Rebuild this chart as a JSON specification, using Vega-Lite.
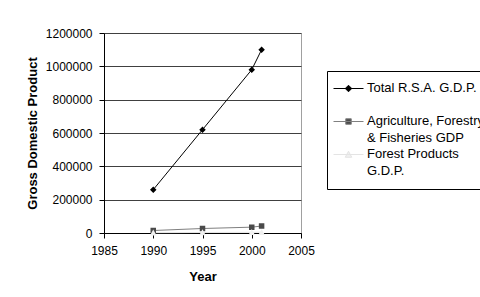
{
  "$schema": "https://vega.github.io/schema/vega-lite/v6.json",
  "width": 197,
  "height": 200,
  "autosize": {"type": "none"},
  "padding": {"left": 104, "top": 33, "right": 179, "bottom": 64},
  "background": "white",
  "config": {
    "font": "Liberation Sans",
    "view": {"stroke": "#a0a0a0", "strokeWidth": 1},
    "axis": {"labelFont": "Liberation Sans", "titleFont": "Liberation Sans", "labelColor": "#000", "titleColor": "#000", "domainColor": "#000", "tickColor": "#000"},
    "legend": {"labelFont": "Liberation Sans"}
  },
  "data": {
    "values": [
      {"year": 1990, "series": "Total R.S.A. G.D.P.", "gdp": 260000},
      {"year": 1995, "series": "Total R.S.A. G.D.P.", "gdp": 620000},
      {"year": 2000, "series": "Total R.S.A. G.D.P.", "gdp": 980000},
      {"year": 2001, "series": "Total R.S.A. G.D.P.", "gdp": 1100000},
      {"year": 1990, "series": "Agriculture, Forestry & Fisheries GDP", "gdp": 15000},
      {"year": 1995, "series": "Agriculture, Forestry & Fisheries GDP", "gdp": 27000},
      {"year": 2000, "series": "Agriculture, Forestry & Fisheries GDP", "gdp": 35000},
      {"year": 2001, "series": "Agriculture, Forestry & Fisheries GDP", "gdp": 42000},
      {"year": 1990, "series": "Forest Products G.D.P.", "gdp": 2000},
      {"year": 1995, "series": "Forest Products G.D.P.", "gdp": 3000},
      {"year": 2000, "series": "Forest Products G.D.P.", "gdp": 4000},
      {"year": 2001, "series": "Forest Products G.D.P.", "gdp": 5000}
    ]
  },
  "encoding": {
    "x": {
      "field": "year", "type": "quantitative",
      "scale": {"domain": [1985, 2005], "nice": false, "zero": false},
      "axis": {"title": "Year", "values": [1985, 1990, 1995, 2000, 2005], "format": "d", "grid": false,
        "labelFontSize": 12, "titleFontSize": 13, "titleFontWeight": "bold", "tickSize": 5, "labelPadding": 7, "titlePadding": 14, "labelFlush": false}
    },
    "y": {
      "field": "gdp", "type": "quantitative",
      "scale": {"domain": [0, 1200000], "nice": false},
      "axis": {"title": "Gross Domestic Product", "values": [0, 200000, 400000, 600000, 800000, 1000000, 1200000], "format": "d",
        "grid": true, "gridColor": "#404040", "gridWidth": 1, "gridOpacity": 1,
        "labelFontSize": 12, "titleFontSize": 13, "titleFontWeight": "bold", "tickSize": 5, "labelPadding": 7, "titlePadding": 6}
    }
  },
  "layer": [
    {
      "mark": {"type": "line", "strokeWidth": 1},
      "encoding": {
        "color": {
          "field": "series", "type": "nominal",
          "scale": {"domain": ["Total R.S.A. G.D.P.", "Agriculture, Forestry & Fisheries GDP", "Forest Products G.D.P."], "range": ["#000000", "#808080", "#e4e4e4"]}
        }
      }
    },
    {
      "mark": {"type": "point", "filled": true, "strokeWidth": 0, "size": 100, "opacity": 1},
      "encoding": {
        "fill": {
          "field": "series", "type": "nominal",
          "scale": {"domain": ["Total R.S.A. G.D.P.", "Agriculture, Forestry & Fisheries GDP", "Forest Products G.D.P."], "range": ["#000000", "#4a4a4a", "#f0f0f0"]},
          "legend": {
            "title": null,
            "orient": "none", "legendX": 223, "legendY": 38,
            "strokeColor": "#000", "padding": 11, "fillColor": "white",
            "symbolSize": 100, "symbolStrokeWidth": 1, "symbolOpacity": 1, "symbolOffset": 4,
            "labelFontSize": 13, "labelColor": "#000", "labelOffset": 12, "labelLimit": 300,
            "labelBaseline": "top", "rowPadding": 2,
            "labelExpr": "datum.label == 'Agriculture, Forestry & Fisheries GDP' ? ['Agriculture, Forestry', '& Fisheries GDP'] : datum.label == 'Forest Products G.D.P.' ? ['Forest Products', 'G.D.P.'] : [datum.label, ' ']",
            "encode": {
              "labels": {"update": {"lineHeight": {"value": 17.5}, "dy": {"value": -7}}},
              "symbols": {"update": {"strokeWidth": {"value": 1}}}
            }
          }
        },
        "shape": {
          "field": "series", "type": "nominal",
          "scale": {"domain": ["Total R.S.A. G.D.P.", "Agriculture, Forestry & Fisheries GDP", "Forest Products G.D.P."],
            "range": ["M-3,0H3M0,-0.65L0.65,0L0,0.65L-0.65,0Z", "M-3,0H3M-0.55,-0.55H0.55V0.55H-0.55Z", "M-3,0H3M0,-0.65L0.65,0.55H-0.65Z"]}
        }
      }
    }
  ]
}
